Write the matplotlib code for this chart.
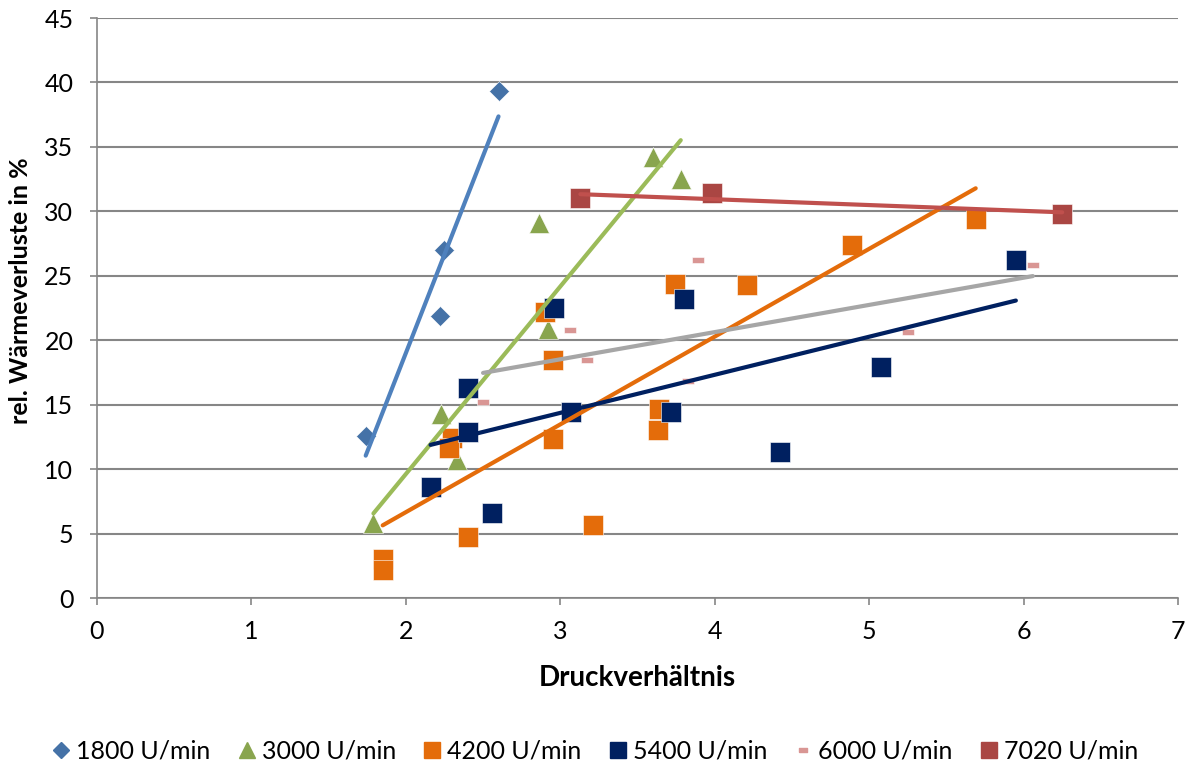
import numpy as np
import matplotlib
matplotlib.use("Agg")
import matplotlib.pyplot as plt
from matplotlib.lines import Line2D

plt.rcParams['font.family'] = ['Lato', 'DejaVu Sans']

# Druckverhältnis (x) und relative Wärmeverluste in % (y) je Drehzahl
x1800 = [1.74, 2.22, 2.25, 2.60]
y1800 = [12.6, 21.9, 27.0, 39.3]

x3000 = [1.79, 2.23, 2.33, 2.86, 2.92, 3.60, 3.78]
y3000 = [5.8, 14.3, 10.7, 29.1, 20.9, 34.2, 32.5]

x4200 = [1.85, 1.85, 2.40, 2.30, 2.28, 2.90, 2.95, 2.95, 3.21, 3.63, 3.64, 3.74, 4.21, 4.89, 5.69]
y4200 = [3.0, 2.2, 4.7, 12.4, 11.6, 22.2, 18.5, 12.3, 5.7, 13.0, 14.7, 24.4, 24.3, 27.4, 29.4]

x5400 = [2.16, 2.40, 2.40, 2.56, 2.96, 3.07, 3.72, 3.80, 4.42, 5.08, 5.95]
y5400 = [8.6, 12.9, 16.3, 6.6, 22.5, 14.4, 14.4, 23.2, 11.3, 17.9, 26.2]

x6000 = [2.50, 3.06, 3.17, 3.83, 3.89, 5.25, 6.06]
y6000 = [15.2, 20.8, 18.5, 16.8, 26.2, 20.6, 25.8]

x7020 = [3.13, 3.98, 6.25]
y7020 = [31.0, 31.4, 29.8]

labels = ["1800 U/min", "3000 U/min", "4200 U/min", "5400 U/min", "6000 U/min", "7020 U/min"]

x_ticks = [0, 1, 2, 3, 4, 5, 6, 7]
y_ticks = [0, 5, 10, 15, 20, 25, 30, 35, 40, 45]

dash = [(-1, -0.5), (1, -0.5), (1, 0.5), (-1, 0.5), (-1, -0.5)]

series = [
    # x, y, marker, marker size, marker colour, trendline colour
    (x1800, y1800, 'D', 10.5, '#4572A7', '#4F81BD'),
    (x3000, y3000, '^', 14.5, '#89A54E', '#9BBB59'),
    (x4200, y4200, 's', 14.5, '#E46C0A', '#E46C0A'),
    (x5400, y5400, 's', 14.5, '#002060', '#002060'),
    (x6000, y6000, dash, 8.5, '#D99694', '#A6A6A6'),
    (x7020, y7020, 's', 14.5, '#AA4643', '#C0504D'),
]

fig = plt.figure(figsize=(11.92, 7.67), dpi=100)
ax = fig.add_axes([97 / 1192, 1 - 598 / 767, (1178 - 97) / 1192, (598 - 18) / 767])

grid_color = '#868686'
handles = []
for xs, ys, mk, ms, mc, tc in series:
    ax.plot(xs, ys, linestyle='none', marker=mk, markersize=ms,
            markerfacecolor=mc, markeredgecolor='white', markeredgewidth=0.4,
            zorder=3)
    # linear trendline over the range of the measured points
    k, d = np.polyfit(xs, ys, 1)
    xt = np.array([min(xs), max(xs)])
    ax.plot(xt, k * xt + d, color=tc, linewidth=3.0, solid_capstyle='round', zorder=4)
    handles.append(Line2D([], [], linestyle='none', marker=mk, markersize=ms * 0.75,
                          markerfacecolor=mc, markeredgecolor=mc))

ax.set_xlim(0, 7)
ax.set_ylim(0, 45)
ax.set_xticks(x_ticks)
ax.set_yticks(y_ticks)
ax.yaxis.grid(True, color=grid_color, linewidth=1.5)
ax.set_axisbelow(True)

for side in ('top', 'right'):
    ax.spines[side].set_visible(False)
for side in ('left', 'bottom'):
    ax.spines[side].set_color(grid_color)
    ax.spines[side].set_linewidth(1.2)

ax.tick_params(axis='both', direction='out', length=5, width=1.2, color=grid_color,
               labelsize=18, labelcolor='black')
ax.tick_params(axis='x', pad=11)
ax.tick_params(axis='y', pad=12)

ax.set_xlabel("Druckverhältnis", fontsize=20, fontweight='bold', labelpad=16)
ax.set_ylabel("rel. Wärmeverluste in %", fontsize=18, fontweight='bold')
ax.yaxis.set_label_coords(-0.06, 0.53)

fig.legend(handles, labels, loc='center', bbox_to_anchor=(0.5, 1 - 751 / 767),
           ncol=6, frameon=False, fontsize=18, handlelength=0.6, handletextpad=0.3,
           columnspacing=1.15)

fig.savefig("out.png", dpi=100)
